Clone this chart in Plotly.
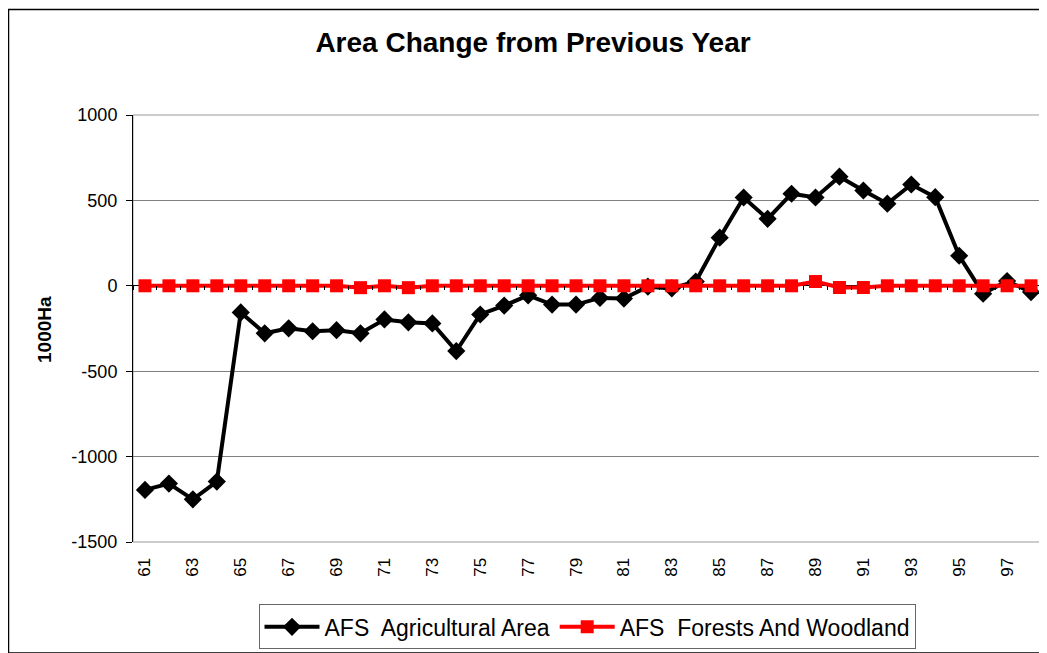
import plotly.graph_objects as go

years = [str(y) for y in range(61, 99)]
agricultural = [-1195, -1158, -1250, -1146, -156, -278, -249, -266, -260, -278,
                -197, -214, -220, -382, -168, -116, -56, -110, -110, -71,
                -75, -5, -15, 25, 282, 517, 392, 539, 517, 639,
                558, 481, 593, 519, 176, -46, 28, -37]
forests = [0, 0, 0, 0, 0, 0, 0, 0, 0, -11,
           0, -11, 0, 0, 0, 0, 0, 0, 0, 0,
           0, 0, 0, 0, 0, 0, 0, 0, 25, -10,
           -10, 0, 0, 0, 0, 0, 0, 0]
tick_labels = years[::2]
y_ticks = [-1500, -1000, -500, 0, 500, 1000]
y_tick_text = ["-1500", "-1000", "-500", "0", "500", "1000"]

FONT = "Liberation Sans, Arial, sans-serif"
OFF = 8  # page body margin offset
W, H = 1047 - OFF, 653 - OFF
L, T = 133 - OFF, 115 - OFF
PW, PH = 910, 431
R, B = W - L - PW, H - T - PH


def px(p):  # page x -> paper fraction
    return (p - OFF - L) / PW


def py(p):  # page y -> paper fraction
    return (T + PH - (p - OFF)) / PH


fig = go.Figure()
fig.add_trace(go.Scatter(
    x=years, y=[None] * len(years), xaxis="x2", yaxis="y", showlegend=False,
    hoverinfo="skip", mode="lines",
))
fig.add_trace(go.Scatter(
    x=years, y=agricultural, name="AFS  Agricultural Area", mode="lines+markers",
    line=dict(color="black", width=4),
    marker=dict(symbol="diamond", size=14, color="black"),
))
fig.add_trace(go.Scatter(
    x=years, y=forests, name="AFS  Forests And Woodland", mode="lines+markers",
    line=dict(color="#ff0000", width=4),
    marker=dict(symbol="square", size=13, color="#ff0000"),
))

fig.update_layout(
    width=W, height=H,
    margin=dict(l=L, r=R, t=T, b=B),
    paper_bgcolor="white", plot_bgcolor="white",
    font=dict(family=FONT, size=17, color="black"),
    title=dict(text="<b>Area Change from Previous Year</b>", x=(533 - OFF) / W, xanchor="center",
               y=1 - (42 - OFF) / H, yanchor="middle", font=dict(size=28, family=FONT)),
    showlegend=True,
    legend=dict(orientation="h", x=px(587), xanchor="center", y=py(609),
                yanchor="top", bordercolor="#666666", borderwidth=1, itemwidth=55,
                font=dict(size=23, family=FONT), traceorder="normal"),
    xaxis=dict(
        type="category", range=[-0.5, len(years) - 0.5],
        tickmode="array", tickvals=tick_labels, ticktext=tick_labels,
        tickangle=-90, tickfont=dict(size=17), showgrid=False, zeroline=False,
        showline=False, ticks="outside", ticklen=8, tickcolor="rgba(0,0,0,0)",
        automargin=False,
    ),
    xaxis2=dict(
        type="category", overlaying="x", anchor="free", position=py(287),
        range=[-0.5, len(years) - 0.5], showticklabels=False, showgrid=False,
        zeroline=False, showline=False, ticks="outside", ticklen=4, tickwidth=1,
        tickcolor="black", tickson="boundaries", automargin=False,
    ),
    yaxis=dict(
        range=[-1500, 1000], tickmode="array", tickvals=y_ticks, ticktext=y_tick_text,
        tickfont=dict(size=18),
        showgrid=True, gridcolor="#808080", gridwidth=1,
        zeroline=True, zerolinecolor="black", zerolinewidth=1,
        showline=True, linecolor="black", linewidth=1, ticks="outside", ticklen=6,
        tickcolor="black", automargin=False, layer="below traces",
        ticklabelstandoff=5,
    ),
    annotations=[
        dict(text="<b>1000Ha</b>", xref="paper", yref="paper",
             x=px(45), y=py(332), textangle=-90,
             showarrow=False, font=dict(size=19, family=FONT),
             xanchor="center", yanchor="middle"),
    ],
    shapes=[
        dict(type="rect", xref="paper", yref="paper", x0=0, x1=1, y0=0, y1=1,
             line=dict(color="#999999", width=1), fillcolor="rgba(0,0,0,0)", layer="below"),
        dict(type="rect", xref="paper", yref="paper",
             x0=-(L - 0.5) / PW, x1=(W + 5 - L) / PW, y0=-(B + 5) / PH, y1=1 + (T - 0.5) / PH,
             line=dict(color="black", width=1.5), fillcolor="rgba(0,0,0,0)", layer="below"),
    ],
)

fig.write_html("out.html")
